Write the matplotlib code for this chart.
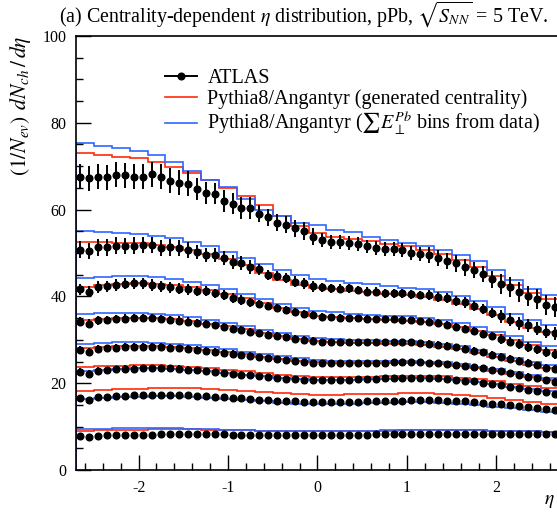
import numpy as np
import matplotlib.pyplot as plt
from matplotlib.lines import Line2D

plt.rcParams['font.family'] = ['Liberation Serif', 'DejaVu Serif']
plt.rcParams['mathtext.fontset'] = 'stix'
plt.rcParams['axes.unicode_minus'] = False

# data bins (0.1 wide) and MC bins (0.2 wide)
eta = np.round(np.arange(-2.65, 2.7, 0.1), 2)
edges = np.round(np.arange(-2.7, 2.75, 0.2), 1)

# ATLAS points, top (most central) to bottom
atlas = [
    [67.6, 67.2, 67.6, 67.4, 68.0, 67.9, 67.6, 67.6, 68.1, 67.6, 66.7, 66.2, 66.0, 64.7, 63.9, 63.7, 62.0, 61.4,
     60.3, 60.3, 59.1, 58.2, 57.0, 56.5, 55.7, 55.1, 53.8, 53.0, 52.6, 52.6, 52.4, 52.0, 51.5, 51.2, 50.9, 50.9,
     50.7, 50.1, 49.8, 49.5, 48.8, 48.2, 47.6, 46.7, 46.1, 45.2, 43.9, 42.9, 42.2, 41.1, 40.1, 39.3, 38.0, 37.6],
    [50.8, 50.5, 51.3, 51.3, 51.7, 51.6, 51.7, 51.8, 51.8, 51.1, 51.3, 51.2, 50.7, 50.3, 49.5, 49.5, 48.8, 48.0,
     47.6, 46.8, 46.2, 44.9, 44.7, 44.2, 43.4, 43.0, 42.3, 42.1, 41.9, 41.8, 41.9, 41.5, 41.1, 41.1, 40.7, 40.7,
     40.7, 40.5, 40.3, 40.3, 39.9, 39.6, 39.0, 38.6, 37.8, 37.1, 36.2, 35.4, 34.6, 33.8, 33.3, 32.6, 31.9, 31.5],
    [41.6, 41.1, 42.2, 42.3, 42.6, 42.9, 43.0, 43.0, 42.6, 42.3, 42.1, 41.8, 41.6, 41.3, 41.3, 40.7, 40.3, 39.6,
     39.2, 38.6, 38.2, 37.8, 37.4, 36.9, 36.5, 35.9, 35.7, 35.3, 35.2, 35.1, 35.0, 35.0, 34.9, 34.8, 34.8, 34.7,
     34.6, 34.5, 34.3, 34.1, 33.8, 33.4, 33.0, 32.5, 32.0, 31.4, 30.8, 30.2, 29.6, 29.0, 28.4, 27.8, 27.2, 26.7],
    [34.2, 33.7, 34.5, 34.6, 34.8, 34.9, 35.0, 35.0, 35.0, 34.8, 34.6, 34.4, 34.2, 33.9, 33.7, 33.3, 33.0, 32.6,
     32.3, 31.9, 31.5, 31.2, 30.9, 30.6, 30.3, 30.0, 29.8, 29.6, 29.5, 29.5, 29.5, 29.5, 29.5, 29.5, 29.5, 29.5,
     29.4, 29.4, 29.3, 29.1, 28.9, 28.6, 28.3, 27.9, 27.5, 27.1, 26.6, 26.1, 25.6, 25.1, 24.6, 24.1, 23.6, 23.2],
    [27.6, 27.2, 27.9, 28.0, 28.2, 28.3, 28.4, 28.4, 28.4, 28.3, 28.2, 28.0, 27.9, 27.7, 27.5, 27.3, 27.0, 26.8,
     26.5, 26.3, 26.0, 25.8, 25.5, 25.3, 25.1, 24.9, 24.7, 24.6, 24.6, 24.6, 24.6, 24.6, 24.7, 24.7, 24.7, 24.8,
     24.8, 24.8, 24.8, 24.7, 24.6, 24.4, 24.2, 24.0, 23.7, 23.4, 23.1, 22.7, 22.3, 21.9, 21.5, 21.1, 20.7, 20.3],
    [22.6, 22.2, 22.9, 23.0, 23.2, 23.3, 23.3, 23.4, 23.4, 23.4, 23.4, 23.3, 23.1, 23.0, 22.8, 22.6, 22.4, 22.2,
     22.0, 21.8, 21.6, 21.4, 21.2, 21.0, 20.9, 20.8, 20.7, 20.7, 20.7, 20.8, 20.8, 20.9, 21.0, 21.0, 21.1, 21.1,
     21.2, 21.2, 21.2, 21.2, 21.1, 21.0, 20.8, 20.6, 20.4, 20.1, 19.8, 19.5, 19.2, 18.8, 18.5, 18.2, 17.9, 17.6],
    [16.5, 16.2, 16.8, 16.9, 17.0, 17.1, 17.2, 17.2, 17.3, 17.3, 17.3, 17.3, 17.2, 17.1, 17.0, 16.9, 16.8, 16.7,
     16.5, 16.4, 16.2, 16.1, 16.0, 15.9, 15.8, 15.7, 15.6, 15.6, 15.6, 15.6, 15.7, 15.7, 15.8, 15.9, 15.9, 16.0,
     16.0, 16.1, 16.1, 16.1, 16.1, 16.0, 15.9, 15.8, 15.6, 15.5, 15.3, 15.1, 14.9, 14.7, 14.5, 14.3, 14.1, 13.9],
    [7.8, 7.6, 7.9, 8.0, 8.0, 8.1, 8.1, 8.1, 8.1, 8.2, 8.2, 8.2, 8.2, 8.2, 8.2, 8.2, 8.2, 8.1,
     8.1, 8.1, 8.1, 8.1, 8.0, 8.0, 8.0, 8.0, 8.0, 8.0, 8.0, 8.0, 8.1, 8.1, 8.1, 8.2, 8.2, 8.3,
     8.3, 8.3, 8.4, 8.4, 8.4, 8.4, 8.4, 8.4, 8.4, 8.4, 8.4, 8.4, 8.4, 8.3, 8.3, 8.3, 8.3, 8.2],
]

atlas_err = [
    [2.9] * 13 + [2.5] * 7 + [2.0] * 7 + [1.6] * 12 + [1.9] * 8 + [2.3] * 7,
    [1.9] * 13 + [1.6] * 7 + [1.2] * 7 + [1.0] * 12 + [1.2] * 8 + [1.5] * 7,
    [1.3] * 13 + [1.1] * 7 + [0.9] * 7 + [0.8] * 12 + [0.9] * 8 + [1.1] * 7,
    [1.0] * 13 + [0.9] * 7 + [0.8] * 7 + [0.7] * 12 + [0.8] * 8 + [0.9] * 7,
    [0.9] * 13 + [0.8] * 7 + [0.7] * 7 + [0.6] * 12 + [0.7] * 8 + [0.8] * 7,
    [0.8] * 13 + [0.7] * 7 + [0.6] * 7 + [0.6] * 12 + [0.6] * 8 + [0.7] * 7,
    [0.7] * 13 + [0.6] * 7 + [0.5] * 7 + [0.5] * 12 + [0.5] * 8 + [0.6] * 7,
    [0.5] * 13 + [0.4] * 7 + [0.4] * 7 + [0.4] * 12 + [0.4] * 8 + [0.4] * 7,
]

# Pythia8/Angantyr, generated centrality
pythia_gen = [
    [73.1, 72.6, 72.2, 71.8, 71.0, 69.9, 68.4, 66.8, 64.9, 63.2, 61.1, 58.6, 56.3, 54.6,
     53.8, 53.2, 52.8, 52.1, 51.5, 50.8, 49.7, 48.4, 46.8, 44.6, 42.6, 40.8, 39.4],
    [52.6, 52.5, 52.4, 52.2, 51.9, 51.4, 50.7, 49.8, 48.6, 47.3, 45.5, 43.8, 42.7, 41.9,
     41.6, 41.3, 41.0, 40.6, 40.3, 39.9, 39.2, 38.3, 37.1, 35.7, 34.2, 32.8, 31.7],
    [42.2, 42.6, 42.9, 43.0, 42.9, 42.6, 42.1, 41.4, 40.5, 39.6, 38.5, 37.4, 36.4, 35.6,
     35.2, 35.0, 34.8, 34.6, 34.4, 34.1, 33.6, 33.0, 32.1, 31.0, 29.9, 28.7, 27.7],
    [34.6, 34.9, 35.1, 35.1, 35.0, 34.7, 34.3, 33.7, 33.1, 32.4, 31.6, 30.9, 30.2, 29.7,
     29.4, 29.3, 29.2, 29.1, 29.0, 28.8, 28.4, 27.8, 27.0, 26.1, 25.1, 24.2, 23.4],
    [28.0, 28.3, 28.5, 28.6, 28.6, 28.4, 28.1, 27.7, 27.2, 26.7, 26.1, 25.6, 25.1, 24.8,
     24.6, 24.6, 24.6, 24.7, 24.7, 24.6, 24.4, 24.0, 23.5, 22.8, 22.1, 21.4, 20.8],
    [23.7, 23.9, 24.0, 24.1, 24.1, 24.0, 23.8, 23.5, 23.1, 22.7, 22.3, 21.9, 21.6, 21.4,
     21.4, 21.4, 21.5, 21.6, 21.7, 21.7, 21.6, 21.3, 21.0, 20.5, 19.9, 19.3, 18.8],
    [18.2, 18.4, 18.6, 18.7, 18.8, 18.8, 18.8, 18.7, 18.5, 18.3, 18.0, 17.7, 17.4, 17.3,
     17.3, 17.4, 17.5, 17.6, 17.7, 17.7, 17.6, 17.3, 17.0, 16.6, 16.1, 15.6, 15.2],
    [9.1, 9.2, 9.3, 9.3, 9.4, 9.4, 9.4, 9.3, 9.3, 9.2, 9.1, 9.0, 8.9, 8.9,
     8.9, 9.0, 9.0, 9.1, 9.2, 9.2, 9.3, 9.3, 9.2, 9.1, 9.0, 8.9, 8.8],
]

# Pythia8/Angantyr, sum E_T^Pb bins from data
pythia_et = [
    [75.3, 74.7, 74.1, 73.4, 72.6, 71.0, 68.8, 66.8, 65.2, 62.5, 60.0, 58.5, 57.0, 56.4,
     55.3, 54.9, 53.8, 53.0, 52.2, 51.6, 50.7, 49.5, 48.2, 46.0, 43.8, 41.8, 40.3],
    [55.1, 54.9, 54.7, 54.4, 54.0, 53.4, 52.6, 51.6, 50.3, 48.9, 47.4, 46.0, 44.9, 44.1,
     43.6, 43.2, 42.8, 42.4, 42.0, 41.6, 41.0, 40.1, 38.9, 37.5, 36.0, 34.6, 33.4],
    [44.2, 44.4, 44.6, 44.6, 44.4, 44.0, 43.4, 42.6, 41.6, 40.5, 39.4, 38.3, 37.4, 36.7,
     36.3, 36.0, 35.8, 35.6, 35.4, 35.1, 34.6, 33.9, 33.0, 31.9, 30.8, 29.6, 28.6],
    [35.9, 36.1, 36.2, 36.2, 36.0, 35.7, 35.2, 34.6, 33.9, 33.1, 32.3, 31.6, 30.9, 30.4,
     30.1, 30.0, 29.9, 29.8, 29.7, 29.5, 29.1, 28.5, 27.7, 26.8, 25.8, 24.9, 24.1],
    [29.0, 29.2, 29.4, 29.4, 29.3, 29.1, 28.8, 28.4, 27.9, 27.3, 26.8, 26.2, 25.7, 25.4,
     25.2, 25.2, 25.2, 25.2, 25.2, 25.0, 24.8, 24.4, 23.8, 23.2, 22.5, 21.8, 21.2],
    [22.9, 23.1, 23.3, 23.4, 23.4, 23.3, 23.1, 22.8, 22.4, 22.0, 21.6, 21.2, 20.9, 20.7,
     20.7, 20.8, 20.9, 21.0, 21.1, 21.1, 21.0, 20.7, 20.3, 19.8, 19.2, 18.6, 18.1],
    [16.4, 16.6, 16.8, 16.9, 17.0, 17.0, 16.9, 16.7, 16.4, 16.1, 15.8, 15.5, 15.3, 15.2,
     15.2, 15.3, 15.4, 15.5, 15.6, 15.6, 15.5, 15.3, 15.0, 14.6, 14.2, 13.8, 13.4],
    [9.4, 9.5, 9.6, 9.6, 9.6, 9.6, 9.5, 9.4, 9.3, 9.2, 9.1, 9.0, 8.9, 8.9,
     8.9, 9.0, 9.1, 9.2, 9.3, 9.3, 9.3, 9.3, 9.2, 9.1, 9.0, 8.9, 8.8],
]

red = '#ff2a0a'
blue = '#2f66ff'

fig = plt.figure(figsize=(5.57, 5.12), dpi=100)
ax = fig.add_axes([0.1364, 0.082, 0.8672, 0.8477])

for gen, et in zip(pythia_gen, pythia_et):
    ax.stairs(gen, edges, color=red, lw=1.2)
    ax.stairs(et, edges, color=blue, lw=1.2)
for y, e in zip(atlas, atlas_err):
    ax.errorbar(eta, y, yerr=e, fmt='o', color='black', ms=4.8, elinewidth=1.4, capsize=0)

ax.set_xlim(-2.7, 2.7)
ax.set_ylim(0, 100)
ax.set_xticks([-2, -1, 0, 1, 2])
ax.set_xticks(np.arange(-2.6, 2.7, 0.2), minor=True)
ax.set_yticks([0, 20, 40, 60, 80, 100])
ax.set_yticks(np.arange(0, 101, 5), minor=True)
ax.tick_params(which='both', direction='in', top=False, right=False, width=1.0, labelsize=11.5)
ax.tick_params(which='major', length=11, pad=7)
ax.tick_params(which='minor', length=5)
for s in ax.spines.values():
    s.set_linewidth(1.2)

ax.set_xlabel(r'$\eta$', fontsize=14, ha='right', va='center')
ax.xaxis.set_label_coords(0.99, -0.072)
ax.set_ylabel(r'$(1/N_{ev})\;\, dN_{ch}\, /\, d\eta$', loc='top', fontsize=15.5, labelpad=7)

fig.text(0.106, 0.973, r'(a) Centrality-dependent $\eta$ distribution, pPb, $\sqrt{S_{NN}}$ = 5 TeV.',
         fontsize=14.4, va='center', ha='left')

handles = [
    Line2D([], [], color='black', marker='o', ms=4.8, lw=1.4),
    Line2D([], [], color=red, lw=1.2),
    Line2D([], [], color=blue, lw=1.2),
]
labels = ['ATLAS', 'Pythia8/Angantyr (generated centrality)',
          r'Pythia8/Angantyr ($\sum E_{\perp}^{Pb}$ bins from data)']
ax.legend(handles, labels, loc='upper left', bbox_to_anchor=(0.168, 0.942), frameon=False,
          fontsize=14.5, handlelength=1.6, handletextpad=0.5, labelspacing=0.05, borderaxespad=0)

fig.savefig('out.png', dpi=100)
